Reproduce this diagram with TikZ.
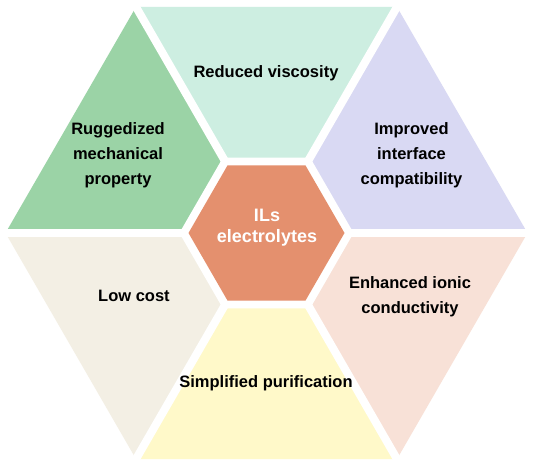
\documentclass[tikz,border=0pt]{standalone}
\usepackage{fontspec}
\setmainfont{Liberation Sans}
\definecolor{cteal}{HTML}{CDEEE1}
\definecolor{cgreen}{HTML}{9BD3A6}
\definecolor{clav}{HTML}{D9D9F3}
\definecolor{cbeige}{HTML}{F3EFE4}
\definecolor{cyellow}{HTML}{FFF9C9}
\definecolor{cpeach}{HTML}{F8E1D7}
\definecolor{ccenter}{HTML}{E4906E}
\tikzset{
  lab/.style={font=\fontsize{16.5}{25}\selectfont\bfseries, align=center, text=black},
  ctext/.style={font=\fontsize{18}{21}\selectfont\bfseries, align=center, text=white},
  gap/.style={draw=white, line width=8pt, line join=miter}
}
\begin{document}
\begin{tikzpicture}[x=1pt,y=1pt]
\useasboundingbox (0,0) rectangle (536,466);
\fill[white] (0,0) rectangle (536,466);
\begin{scope}[shift={(266.5,233)}]
  \def\Ro{261}
  \def\Ri{82.5}
  \fill[clav]    (0:\Ro)   -- (60:\Ro)  -- (60:\Ri)  -- (0:\Ri)   -- cycle;
  \fill[cteal]   (60:\Ro)  -- (120:\Ro) -- (120:\Ri) -- (60:\Ri)  -- cycle;
  \fill[cgreen]  (120:\Ro) -- (180:\Ro) -- (180:\Ri) -- (120:\Ri) -- cycle;
  \fill[cbeige]  (180:\Ro) -- (240:\Ro) -- (240:\Ri) -- (180:\Ri) -- cycle;
  \fill[cyellow] (240:\Ro) -- (300:\Ro) -- (300:\Ri) -- (240:\Ri) -- cycle;
  \fill[cpeach]  (300:\Ro) -- (360:\Ro) -- (360:\Ri) -- (300:\Ri) -- cycle;
  \foreach \a in {0,60,...,300} {
    \draw[gap] (\a:\Ri) -- (\a:270);
  }
  \draw[gap] (0:\Ri) -- (60:\Ri) -- (120:\Ri) -- (180:\Ri) -- (240:\Ri) -- (300:\Ri) -- cycle;
  \fill[ccenter] (0:78) -- (60:78) -- (120:78) -- (180:78) -- (240:78) -- (300:78) -- cycle;
\end{scope}
\node[ctext] (c) at (267,238) {ILs\\electrolytes};
\node[lab] (top) at (266,393) {Reduced viscosity};
\node[lab] (ul) at (118,311) {Ruggedized\\mechanical\\property};
\node[lab] (ur) at (411.5,311) {Improved\\interface\\compatibility};
\node[lab] (ll) at (134,170) {Low cost};
\node[lab] (bot) at (266,83) {Simplified purification};
\node[lab] (lr) at (410,169) {Enhanced ionic\\conductivity};
\end{tikzpicture}
\end{document}
